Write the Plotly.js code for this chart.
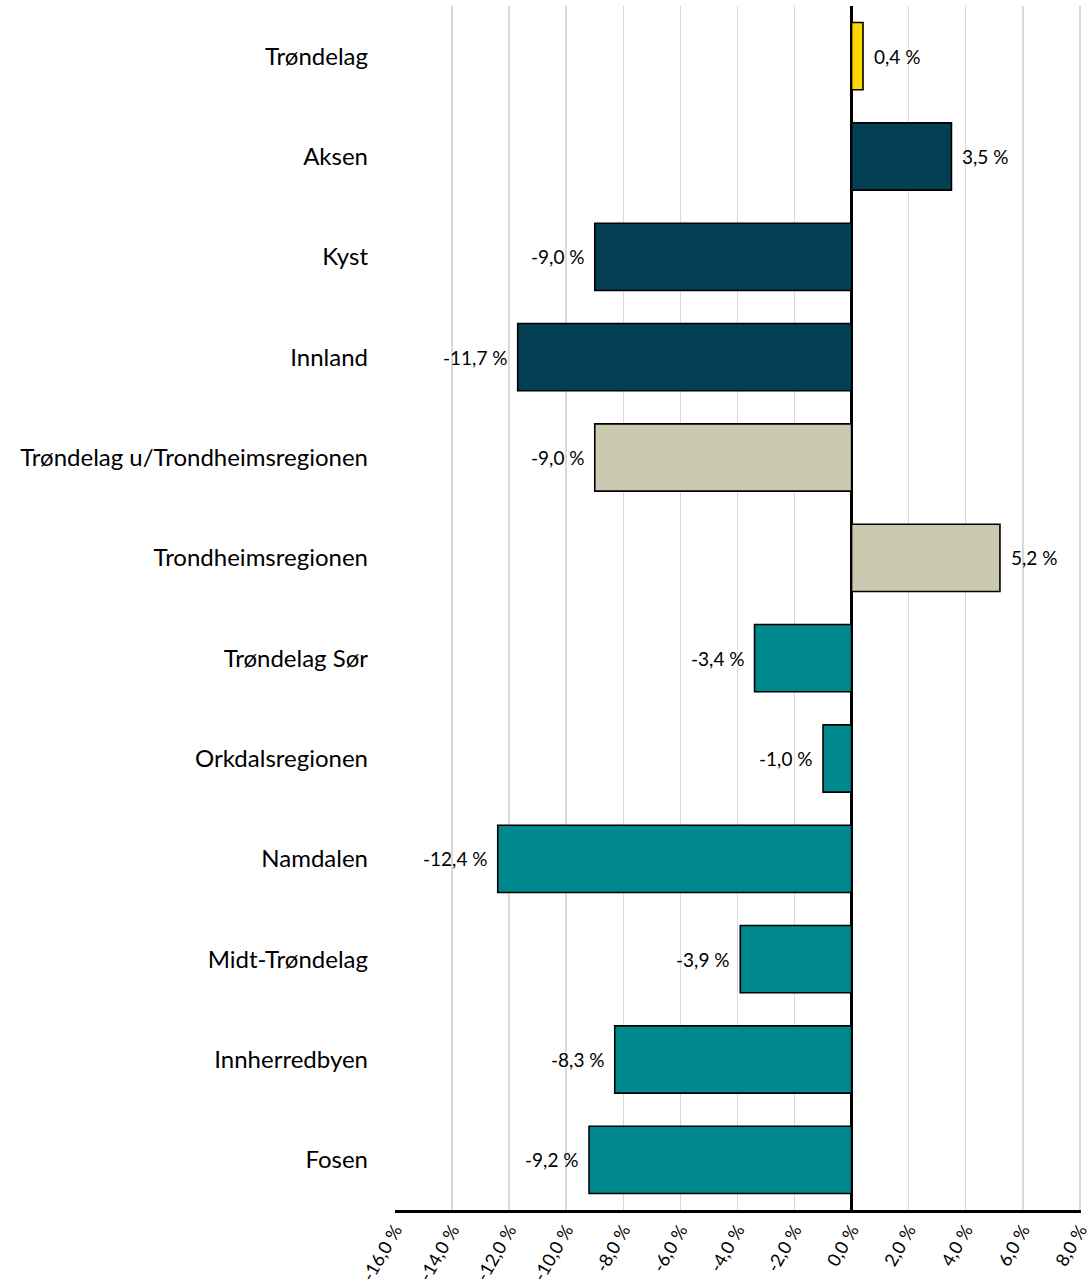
<!DOCTYPE html>
<html>
<head>
<meta charset="utf-8">
<script src="https://cdn.plot.ly/plotly-3.0.1.min.js"></script>
<style>html,body{margin:0;padding:0;background:#fff;}#chart{width:1091px;height:1284px;}</style>
</head>
<body>
<div id="chart"></div>
<script>
const categories = ["Trøndelag","Aksen","Kyst","Innland","Trøndelag u/Trondheimsregionen","Trondheimsregionen","Trøndelag Sør","Orkdalsregionen","Namdalen","Midt-Trøndelag","Innherredbyen","Fosen"];
const values = [0.4, 3.5, -9.0, -11.7, -9.0, 5.2, -3.4, -1.0, -12.4, -3.9, -8.3, -9.2];
const barColors = ["#FFD700","#023F52","#023F52","#023F52","#CCC9B1","#CCC9B1","#00888F","#00888F","#00888F","#00888F","#00888F","#00888F"];
const tickVals = [-16,-14,-12,-10,-8,-6,-4,-2,0,2,4,6,8];

const fmt = v => v.toFixed(1).replace('.', ',') + ' %';
const labels = values.map(fmt);
const tickText = tickVals.map(fmt);

const annotations = values.map((v, i) => ({
  x: v, y: categories[i], xref: 'x', yref: 'y',
  text: labels[i], showarrow: false,
  xanchor: v < 0 ? 'right' : 'left',
  xshift: v < 0 ? -8 : 9,
  font: {family: 'Lato, sans-serif', size: 19, color: '#000'}
}));

Plotly.newPlot('chart', [{
  type: 'bar',
  orientation: 'h',
  y: categories,
  x: values,
  marker: {color: barColors, line: {color: '#000', width: 1.6}},
  hoverinfo: 'skip'
}], {
  width: 1091, height: 1284,
  margin: {l: 395, r: 10, t: 6, b: 74},
  paper_bgcolor: '#fff', plot_bgcolor: '#fff',
  bargap: 0.33,
  showlegend: false,
  annotations: annotations,
  font: {family: 'Lato, sans-serif', color: '#000'},
  xaxis: {
    range: [-16, 8.04],
    tickmode: 'array',
    tickvals: tickVals,
    ticktext: tickText,
    tickangle: -60,
    tickfont: {size: 18, color: '#000'},
    ticklabeloverflow: 'allow',
    showgrid: true, gridcolor: '#D9D9D9', gridwidth: 1.5,
    zeroline: true, zerolinecolor: '#000', zerolinewidth: 2.5,
    showline: true, linecolor: '#000', linewidth: 2.5,
    ticks: '', fixedrange: true
  },
  yaxis: {
    autorange: 'reversed',
    tickfont: {size: 24, color: '#000'},
    ticks: '', ticklen: 0,
    showgrid: false, zeroline: false, showline: false,
    ticklabelstandoff: 26
  }
}, {displayModeBar: false, staticPlot: true});
</script>
</body>
</html>
